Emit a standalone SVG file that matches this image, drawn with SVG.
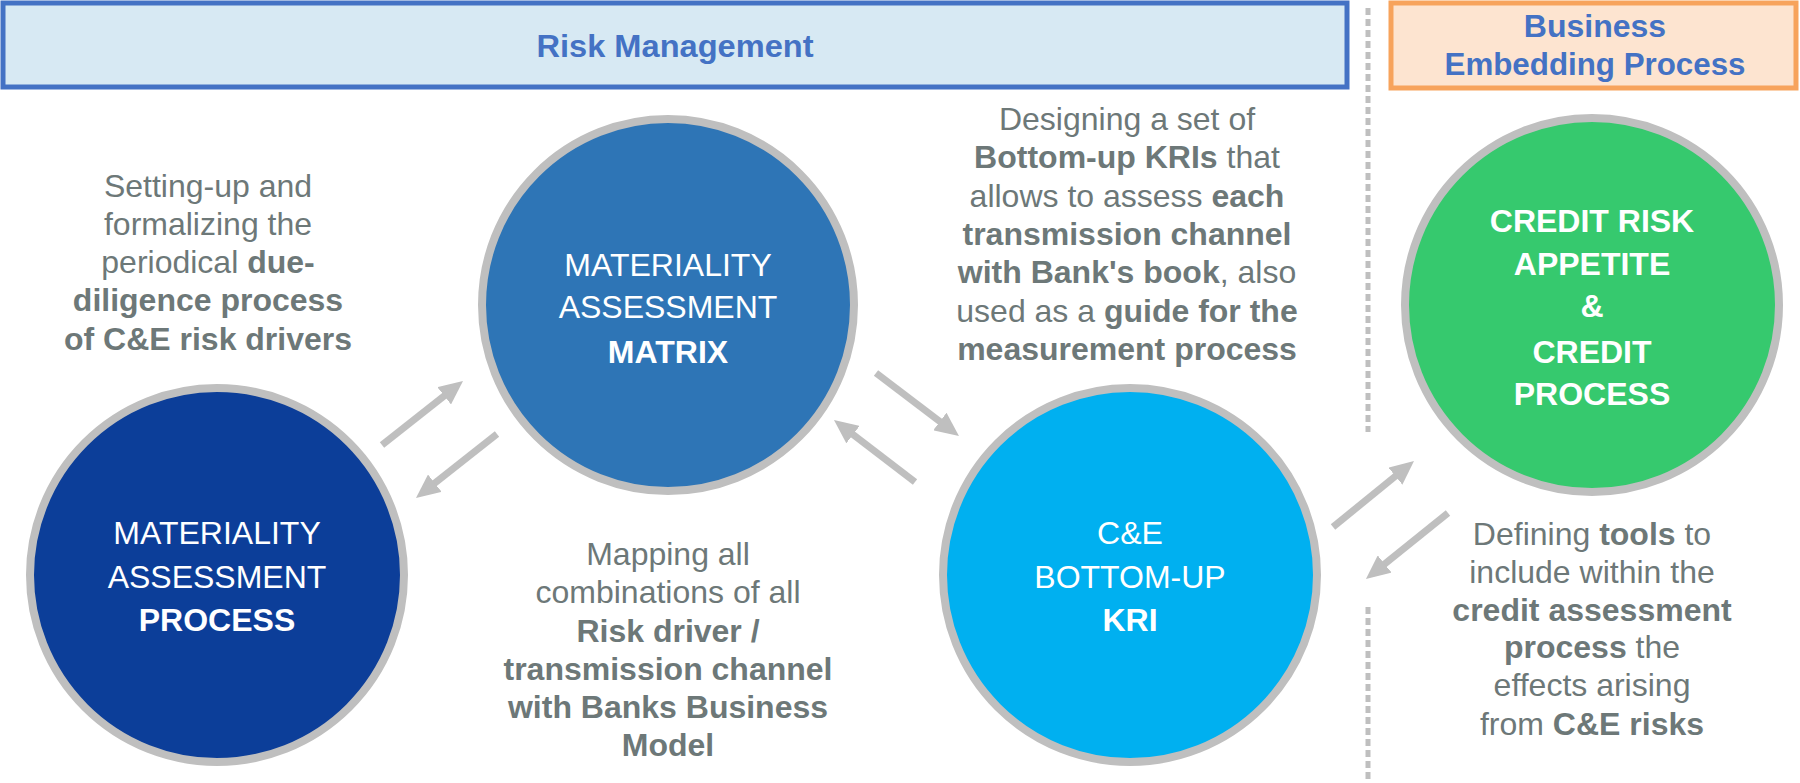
<svg xmlns="http://www.w3.org/2000/svg" width="1800" height="783" viewBox="0 0 1800 783">
<style>
.hdr{font-family:"Liberation Sans",Arial,sans-serif;font-weight:bold;font-size:32px;fill:#4472C4;text-anchor:middle}
.ct{font-family:"Liberation Sans",Arial,sans-serif;font-size:32px;fill:#FFFFFF;text-anchor:middle}
.b{font-weight:bold}
.gt{font-family:"Liberation Sans",Arial,sans-serif;font-size:32px;fill:#6D7878;text-anchor:middle}
.circ{stroke:#BFBFBF;stroke-width:8}
.arr{stroke:#BFBFBF;stroke-width:7;fill:none;marker-end:url(#ah)}
</style>
<defs>
<marker id="ah" markerUnits="userSpaceOnUse" markerWidth="24" markerHeight="22" refX="12" refY="11" orient="auto" viewBox="0 0 24 22">
<path d="M0,0 L24,11 L0,22 z" fill="#BFBFBF"/>
</marker>
</defs>
<rect width="1800" height="783" fill="#FFFFFF"/>

<g id="header-risk">
<rect x="3" y="3" width="1344" height="84" fill="#D7E9F3" stroke="#4472C4" stroke-width="5"/>
<text class="hdr" x="675" y="57" textLength="277" lengthAdjust="spacingAndGlyphs">Risk Management</text>
</g>
<g id="header-business">
<rect x="1391" y="3" width="405" height="85" fill="#FDE4D0" stroke="#F7A35C" stroke-width="5"/>
<text class="hdr" x="1595" y="37">Business</text>
<text class="hdr" x="1595" y="75" textLength="301" lengthAdjust="spacingAndGlyphs">Embedding Process</text>
</g>

<g id="divider">
<line x1="1368" y1="8" x2="1368" y2="432" stroke="#BFBFBF" stroke-width="5" stroke-dasharray="7 4"/>
<line x1="1368" y1="607" x2="1368" y2="783" stroke="#BFBFBF" stroke-width="5" stroke-dasharray="7 4"/>
</g>

<g id="connectors">
<line class="arr" x1="382" y1="445" x2="453.6" y2="388.4"/>
<line class="arr" x1="497" y1="434" x2="425.4" y2="490.6"/>
<line class="arr" x1="876" y1="373" x2="949.4" y2="428.7"/>
<line class="arr" x1="915" y1="482" x2="843.5" y2="427.3"/>
<line class="arr" x1="1333" y1="527" x2="1404.7" y2="468.6"/>
<line class="arr" x1="1448" y1="513" x2="1375.3" y2="571.5"/>
</g>

<g id="node-matrix">
<circle class="circ" cx="668" cy="305" r="186" fill="#2E75B6"/>
<text class="ct" x="668" y="276">MATERIALITY</text>
<text class="ct" x="668" y="318">ASSESSMENT</text>
<text class="ct b" x="668" y="363">MATRIX</text>
</g>

<g id="node-process">
<circle class="circ" cx="217" cy="575" r="187" fill="#0C3E99"/>
<text class="ct" x="217" y="544">MATERIALITY</text>
<text class="ct" x="217" y="588">ASSESSMENT</text>
<text class="ct b" x="217" y="631">PROCESS</text>
</g>

<g id="node-kri">
<circle class="circ" cx="1130" cy="575" r="187" fill="#00B0F0"/>
<text class="ct" x="1130" y="544">C&amp;E</text>
<text class="ct" x="1130" y="588">BOTTOM-UP</text>
<text class="ct b" x="1130" y="631">KRI</text>
</g>

<g id="node-credit">
<circle class="circ" cx="1592" cy="305" r="187" fill="#36C96E"/>
<text class="ct b" x="1592" y="232">CREDIT RISK</text>
<text class="ct b" x="1592" y="275">APPETITE</text>
<text class="ct b" x="1592" y="317">&amp;</text>
<text class="ct b" x="1592" y="363">CREDIT</text>
<text class="ct b" x="1592" y="405">PROCESS</text>
</g>

<g id="text-setting-up">
<text class="gt" x="208" y="197">Setting-up and</text>
<text class="gt" x="208" y="235">formalizing the</text>
<text class="gt" x="208" y="273">periodical <tspan class="b">due-</tspan></text>
<text class="gt b" x="208" y="311">diligence process</text>
<text class="gt b" x="208" y="350">of C&amp;E risk drivers</text>
</g>

<g id="text-designing">
<text class="gt" x="1127" y="130">Designing a set of</text>
<text class="gt" x="1127" y="168"><tspan class="b">Bottom-up KRIs</tspan> that</text>
<text class="gt" x="1127" y="207">allows to assess <tspan class="b">each</tspan></text>
<text class="gt b" x="1127" y="245">transmission channel</text>
<text class="gt" x="1127" y="283"><tspan class="b">with Bank's book</tspan>, also</text>
<text class="gt" x="1127" y="322">used as a <tspan class="b">guide for the</tspan></text>
<text class="gt b" x="1127" y="360">measurement process</text>
</g>

<g id="text-mapping">
<text class="gt" x="668" y="565">Mapping all</text>
<text class="gt" x="668" y="603">combinations of all</text>
<text class="gt b" x="668" y="642">Risk driver /</text>
<text class="gt b" x="668" y="680">transmission channel</text>
<text class="gt b" x="668" y="718">with Banks Business</text>
<text class="gt b" x="668" y="756">Model</text>
</g>

<g id="text-defining">
<text class="gt" x="1592" y="545">Defining <tspan class="b">tools</tspan> to</text>
<text class="gt" x="1592" y="583">include within the</text>
<text class="gt b" x="1592" y="621">credit assessment</text>
<text class="gt" x="1592" y="658"><tspan class="b">process</tspan> the</text>
<text class="gt" x="1592" y="696">effects arising</text>
<text class="gt" x="1592" y="735">from <tspan class="b">C&amp;E risks</tspan></text>
</g>
</svg>
